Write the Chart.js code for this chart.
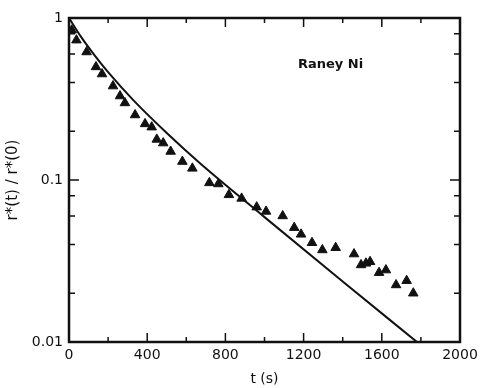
<!DOCTYPE html>
<html>
<head>
<meta charset="utf-8">
<script src="https://cdn.jsdelivr.net/npm/chart.js@4/dist/chart.umd.min.js"></script>
<style>
  html, body { margin: 0; padding: 0; background: #fff; }
  canvas { display: block; }
</style>
</head>
<body>
<canvas id="chart" width="487" height="388"></canvas>
<script>
// measured points (triangles), t in s
const tPoints = [14, 38, 90, 138, 169, 225, 261, 286, 338, 389, 423, 449, 482, 520, 580, 631,
  718, 764, 818, 883, 960, 1008, 1093, 1152, 1187, 1243, 1296, 1364, 1458, 1494, 1519, 1540,
  1586, 1621, 1673, 1727, 1761];
const ratioPoints = [0.84, 0.73, 0.617, 0.499, 0.451, 0.38, 0.33, 0.299, 0.252, 0.222, 0.212, 0.178,
  0.169, 0.15, 0.13, 0.118, 0.096, 0.0945, 0.081, 0.077, 0.068, 0.064, 0.06, 0.0508, 0.0462,
  0.041, 0.037, 0.0382, 0.0349, 0.0299, 0.0306, 0.0313, 0.0268, 0.0278, 0.0225, 0.0239, 0.02];

// model curve
const tModel = [0, 60, 130, 200, 330, 500, 670, 1000, 1400, 1780];
const ratioModel = [1, 0.77, 0.59, 0.463, 0.31, 0.195, 0.127, 0.059, 0.0236, 0.01];

// axis ticks
const xTicks = [0, 200, 400, 600, 800, 1000, 1200, 1400, 1600, 1800, 2000];
const xLabelTicks = [0, 400, 800, 1200, 1600, 2000];
const yMajor = [0.01, 0.1, 1];
const yMinor = [0.02, 0.04, 0.06, 0.08, 0.2, 0.4, 0.6, 0.8];
const yLabels = ['0.01', '0.1', '1'];

const ink = '#111';
const ctx = document.getElementById('chart').getContext('2d');

const frameTicks = {
  id: 'frameTicks',
  afterDatasetsDraw(chart) {
    const { ctx, chartArea: a, scales: { x, y } } = chart;
    ctx.save();
    ctx.strokeStyle = ink;
    ctx.lineWidth = 1.5;
    ctx.beginPath();
    xTicks.forEach(v => {
      const px = x.getPixelForValue(v);
      const len = xLabelTicks.includes(v) ? 9 : 5;
      ctx.moveTo(px, a.bottom); ctx.lineTo(px, a.bottom - len);
      ctx.moveTo(px, a.top); ctx.lineTo(px, a.top + len);
    });
    yMajor.concat(yMinor).forEach(v => {
      const py = y.getPixelForValue(v);
      const len = yMajor.includes(v) ? 10 : 6;
      ctx.moveTo(a.left, py); ctx.lineTo(a.left + len, py);
      ctx.moveTo(a.right, py); ctx.lineTo(a.right - len, py);
    });
    ctx.stroke();
    ctx.lineWidth = 2.5;
    ctx.strokeRect(a.left, a.top, a.right - a.left, a.bottom - a.top);

    ctx.fillStyle = ink;
    ctx.font = 'bold 13px "DejaVu Sans"';
    ctx.textBaseline = 'middle';
    ctx.fillText('Raney Ni', a.left + 229, a.top + 47);
    ctx.restore();
  }
};

new Chart(ctx, {
  type: 'scatter',
  data: {
    datasets: [{
      label: 'model',
      type: 'line',
      data: tModel.map((t, i) => ({ x: t, y: ratioModel[i] })),
      borderColor: ink,
      borderWidth: 2,
      pointRadius: 0,
      fill: false,
      cubicInterpolationMode: 'monotone'
    }, {
      label: 'Raney Ni',
      data: tPoints.map((t, i) => ({ x: t, y: ratioPoints[i] })),
      pointStyle: 'triangle',
      pointRadius: 5.5,
      backgroundColor: ink,
      borderColor: ink,
      borderWidth: 1
    }]
  },
  options: {
    responsive: false,
    animation: false,
    devicePixelRatio: 1,
    layout: { padding: { left: 0, right: 27, top: 18, bottom: 0 } },
    plugins: { legend: { display: false }, tooltip: { enabled: false } },
    scales: {
      x: {
        type: 'linear',
        min: 0,
        max: 2000,
        grid: { display: false, drawTicks: false },
        border: { display: false },
        afterBuildTicks: s => { s.ticks = xLabelTicks.map(v => ({ value: v })); },
        afterFit: s => { s.height = 46; },
        ticks: {
          color: ink,
          padding: 5,
          maxRotation: 0,
          font: { family: 'DejaVu Sans', size: 14 },
          callback: v => String(v)
        },
        title: {
          display: true,
          text: 't (s)',
          color: ink,
          padding: { top: 0, bottom: 0 },
          font: { family: 'DejaVu Sans', size: 14 }
        }
      },
      y: {
        type: 'logarithmic',
        min: 0.01,
        max: 1,
        grid: { display: false, drawTicks: false },
        border: { display: false },
        afterBuildTicks: s => { s.ticks = yMajor.map(v => ({ value: v })); },
        afterFit: s => { s.width = 69; },
        ticks: {
          color: ink,
          padding: 6,
          font: { family: 'DejaVu Sans', size: 14 },
          callback: v => yLabels[yMajor.indexOf(v)]
        },
        title: {
          display: true,
          text: 'r*(t) / r*(0)',
          color: ink,
          padding: { top: 4, bottom: 0 },
          font: { family: 'DejaVu Sans', size: 15 }
        }
      }
    }
  },
  plugins: [frameTicks]
});
</script>
</body>
</html>
